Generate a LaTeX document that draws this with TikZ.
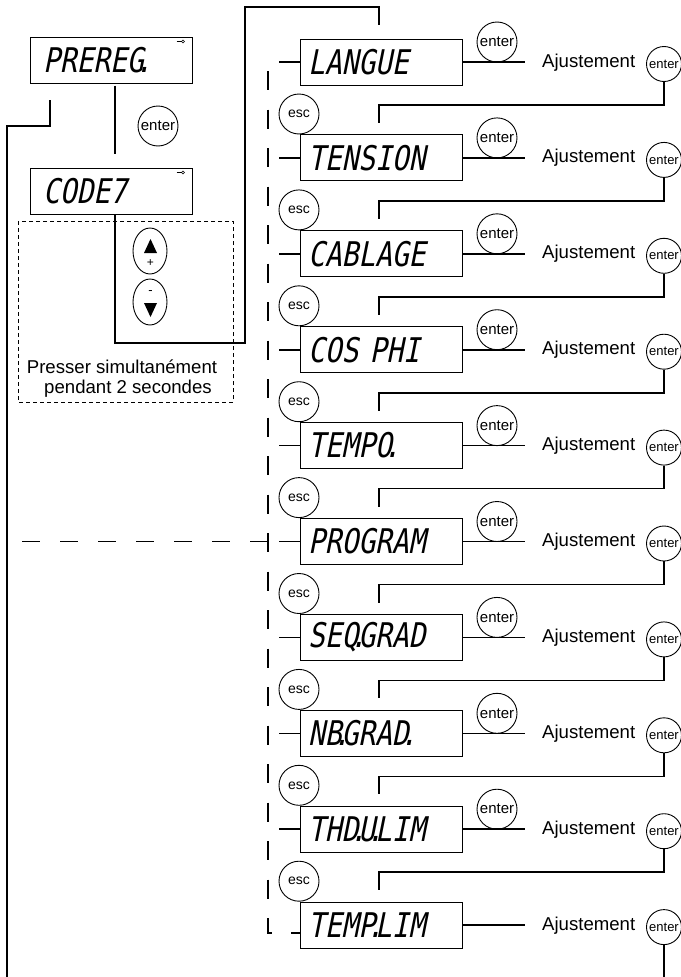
\documentclass[tikz,border=0pt]{standalone}
\usepackage{fontspec}
\setmainfont{Liberation Sans}
\newfontfamily\lcdfont[FakeSlant=0.2,FakeStretch=0.82]{DejaVu Sans Mono}
\usetikzlibrary{shapes.geometric}
\newcommand{\lcddot}{\makebox[0pt]{.}}
\tikzset{
  lcd/.style={draw,line width=1pt,minimum height=46pt,text width=146pt,inner xsep=8pt,inner ysep=0pt,align=left,font={\lcdfont\fontsize{34}{34}\selectfont}},
  lcdl/.style={lcd,text width=136pt,inner xsep=13pt},
  knopf/.style={circle,draw,line width=0.9pt,minimum size=40pt,inner sep=0pt,font={\fontsize{15}{15}\selectfont}},
  knopfr/.style={knopf,minimum size=35pt,font={\fontsize{13}{13}\selectfont}},
  esck/.style={knopf,font={\fontsize{14}{14}\selectfont}},
  pfeilk/.style={ellipse,draw,line width=0.9pt,minimum width=34pt,minimum height=46pt,inner sep=0pt},
  verb/.style={line width=1.6pt},
  strich/.style={line width=1.8pt,dash pattern=on 19pt off 19.5pt},
}
\begin{document}
\begin{tikzpicture}[x=1pt,y=-1pt]
\useasboundingbox (0,0) rectangle (680,977);
% linke Seite
\node[lcdl] (pre) at (111,60) {PREREG\lcddot};
\node[lcdl] (code) at (111,191) {CODE7};
\foreach \n in {pre,code} {
  \draw[line width=0.6pt] ([shift={(-16pt,-5pt)}]\n.north east) -- ++(5,0) coordinate (k\n);
  \draw[line width=0.6pt] ([xshift=1.5pt]k\n) circle (1.5pt);
}
\node[knopf] (ent0) at (158,126) {enter};
\draw[verb] ([xshift=4pt,yshift=-2pt]pre.south) -- ++(0,68);
\draw[line width=0.7pt,dash pattern=on 4pt off 3pt] (18,221) rectangle (233,402);
\node[font={\fontsize{18.6}{18.6}\selectfont}] (txt1) at (122,367) {Presser simultanément};
\node[font={\fontsize{18.6}{18.6}\selectfont}] (txt2) at (128,389) {pendant 2 secondes};
% Tasten + / -
\node[pfeilk] (auf) at (150,251) {};
\fill (144,253) -- (157,253) -- (150.5,239) -- cycle;
\node[font={\fontsize{12}{12}\selectfont},inner sep=0] (plus) at (150.5,263) {+};
\node[pfeilk] (ab) at (150,302) {};
\node[font={\fontsize{13}{13}\selectfont},inner sep=0] (minus) at (150.5,293) {-};
\fill (144,303) -- (157,303) -- (150.5,317) -- cycle;
\draw[verb] ([xshift=4pt]code.south) |- (245,343) |- (379,7) -- (379,25);
\draw[verb] (50,100) |- (7,126) -- (7,977);
% Menue rechts
\foreach \txt [count=\i from 0] in {LANGUE,TENSION,CABLAGE,COS PHI,TEMPO\lcddot,PROGRAM,SEQ\lcddot GRAD,NB\lcddot GRAD\lcddot,THD\lcddot U\lcddot LIM,TEMP\lcddot LIM} {
  \pgfmathsetmacro{\yy}{62+95.9*\i}
  \node[lcd] (m\i) at (381,\yy) {\txt};
  \node[anchor=base west,inner sep=0pt,font={\fontsize{18.6}{18.6}\selectfont}] (aj\i) at (542,\yy+5) {Ajustement};
  \node[knopfr] (er\i) at (664,\yy+2) {enter};
  \draw[verb] (m\i.east) -- (525,\yy);
}
\foreach \i in {0,...,8} {
  \pgfmathsetmacro{\yy}{62+95.9*\i}
  \node[knopf] (em\i) at (497,\yy-20) {enter};
  \node[esck] (esc\i) at (299,\yy+52) {esc};
  \draw[verb] (279,\yy) -- (m\i.west);
  \draw[verb] (er\i.south) |- (379,\yy+43) -- (379,\yy+61);
}
\draw[verb] (er9.south) -- (664,977);
% Ruecksprung gestrichelt
\draw[strich] (268,71) |- ([yshift=-8pt]m9.west);
\draw[strich,dash pattern=on 18pt off 20pt] (22,541.5) -- (268,541.5);
\end{tikzpicture}
\end{document}
